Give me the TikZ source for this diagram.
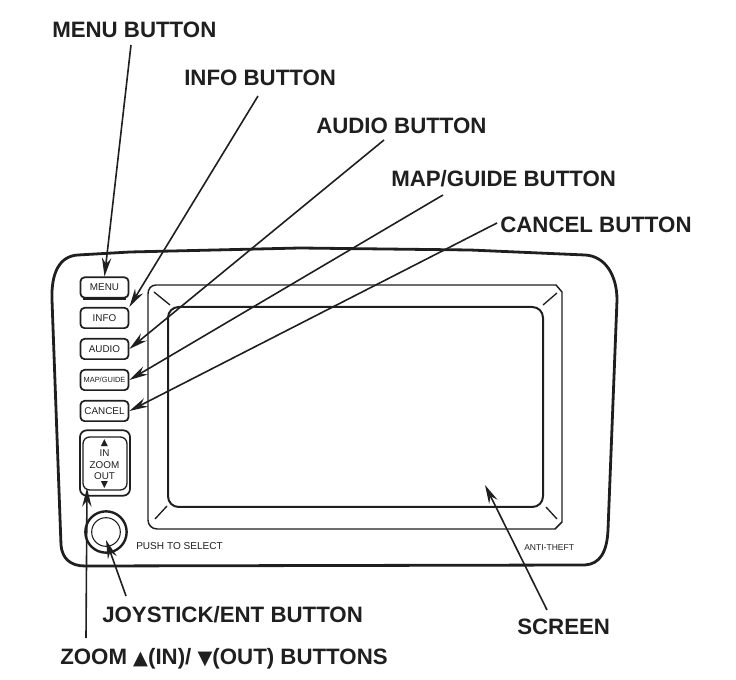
\documentclass[tikz,border=0pt]{standalone}
\usepackage{fontspec}
\setmainfont{Liberation Sans}
\newfontfamily\symbfont{DejaVu Sans}
\usetikzlibrary{arrows.meta}
\definecolor{ink}{gray}{0.12}
\tikzset{
  x=0.75pt,y=-0.75pt,
  callout/.style={anchor=west,inner sep=0pt,text=ink,font=\fontsize{16.7pt}{18pt}\selectfont\bfseries},
  small/.style={inner sep=0pt,text=ink,font=\fontsize{7.4pt}{8pt}\selectfont},
  panel/.style={draw=ink,line width=2.1pt,line join=round},
  bezel/.style={draw=ink,line width=1.1pt},
  btn/.style={draw=ink,line width=1.3pt,rounded corners=3pt,minimum width=36pt,minimum height=15.2pt,inner sep=0pt,text=ink,font=\fontsize{7.4pt}{8pt}\selectfont},
  lead/.style={draw=ink,line width=1.2pt,-{Stealth[length=14pt,width=7pt]}},
  tick/.style={draw=ink,line width=1pt}
}
\begin{document}
\begin{tikzpicture}
\useasboundingbox (0,0) rectangle (736,680);
% panel
\draw[panel] (78,255) -- (130,252) -- (300,248) -- (470,250) -- (585,255)
  .. controls (605,256) and (617,275) .. (617,300)
  -- (608,530) .. controls (607,552) and (600,564) .. (585,565)
  -- (85,566) .. controls (70,566) and (62,558) .. (61,545)
  -- (52,300) .. controls (51,272) and (60,256) .. (78,255) -- cycle;
% screen bezel
\draw[bezel] (156,285) -- (556,285) -- (562,292) -- (562,522) -- (555,529) -- (157,529)
  .. controls (152,529) and (148,525) .. (148,520) -- (148,294) .. controls (148,289) and (151,285) .. (156,285) -- cycle;
\draw[draw=ink,line width=1.5pt,rounded corners=8pt] (168,307) rectangle (543,507);
\coordinate (tlA) at (154,292); \coordinate (tlB) at (170,305);
\coordinate (trA) at (543,305); \coordinate (trB) at (557,293);
\coordinate (brA) at (546,507); \coordinate (brB) at (557,519);
\coordinate (blA) at (155,519); \coordinate (blB) at (167,506);
\draw[tick] (tlA) -- (tlB);
\draw[tick] (trA) -- (trB);
\draw[tick] (brA) -- (brB);
\draw[tick] (blA) -- (blB);
% buttons
\node[btn] (menuB) at (104.5,287.5) {MENU};
\draw[draw=ink,line width=1pt] (83,299) -- (126,299);
\node[btn] (infoB) at (104.5,318) {INFO};
\node[btn] (audioB) at (104.5,349) {AUDIO};
\node[btn,font=\fontsize{5.6pt}{6pt}\selectfont] (mapB) at (104.5,380) {MAP/GUIDE};
\node[btn] (cancelB) at (104.5,411) {CANCEL};
\node[draw=ink,line width=1.3pt,rounded corners=5pt,minimum width=37.5pt,minimum height=49pt,inner sep=0pt] (zoomB) at (105,463) {};
\draw[draw=ink,line width=1pt,rounded corners=5pt] (83,437) rectangle (127,490);
\node[inner sep=0pt,text=ink,font=\symbfont\fontsize{7pt}{7pt}\selectfont] (zoomUp) at (104.5,443) {▲};
\node[small] (zoomIn) at (104.5,453) {IN};
\node[small] (zoomTxt) at (104.5,465) {ZOOM};
\node[small] (zoomOut) at (104.5,476) {OUT};
\node[inner sep=0pt,text=ink,font=\symbfont\fontsize{7pt}{7pt}\selectfont] (zoomDn) at (104.5,485) {▼};
% joystick
\node[draw=ink,line width=1.8pt,circle,minimum size=31pt,inner sep=0pt] (joyO) at (106,532) {};
\node[draw=ink,line width=.8pt,circle,minimum size=21.5pt,inner sep=0pt] (joyI) at (106,532) {};
\node[small,anchor=west] (push) at (136,546) {\fontsize{7.55pt}{8pt}\selectfont PUSH TO SELECT};
\node[small,anchor=west,font=\fontsize{6.4pt}{7pt}\selectfont] (anti) at (524,548) {ANTI-THEFT};
% labels
\node[callout] (menuL) at (52,30) {MENU BUTTON};
\node[callout] (infoL) at (184,78) {INFO BUTTON};
\node[callout] (audioL) at (316,126) {AUDIO BUTTON};
\node[callout] (mapL) at (391,179) {MAP/GUIDE BUTTON};
\node[callout] (cancelL) at (500,225) {CANCEL BUTTON};
\node[callout] (joyL) at (102,615) {JOYSTICK/ENT BUTTON};
\node[callout] (screenL) at (517,627) {SCREEN};
\node[callout] (zoomL) at (60,659) {ZOOM {\symbfont\fontsize{14.5pt}{14pt}\selectfont ▲}(IN)/ {\symbfont\fontsize{14.5pt}{14pt}\selectfont ▼}(OUT) BUTTONS};
% leaders
\coordinate (menuS) at (131,45);
\coordinate (infoS) at (258,96);
\coordinate (audioS) at (384,140);
\coordinate (mapS) at (443,195);
\coordinate (cancelS) at (497,223);
\coordinate (zoomS) at (86,638);
\coordinate (zoomT) at (87,488);
\coordinate (joyS) at (126,596);
\coordinate (joyT) at (106,540);
\coordinate (screenS) at (547,610);
\coordinate (screenT) at (485,485);
\draw[lead] (menuS) -- (menuB.north);
\draw[lead] (infoS) -- (infoB.north east);
\draw[lead] (audioS) -- (audioB.east);
\draw[lead] (mapS) -- (mapB.east);
\draw[lead] (cancelS) -- (cancelB.east);
\draw[lead] (zoomS) -- (zoomT);
\draw[lead] (joyS) -- (joyT);
\draw[lead] (screenS) -- (screenT);
\end{tikzpicture}
\end{document}
